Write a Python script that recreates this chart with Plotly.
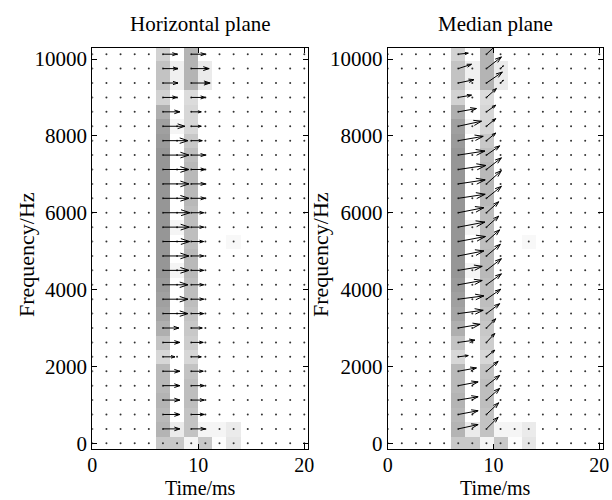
import plotly.graph_objects as go

# ---------------- grid ----------------
time_ms = [0.0, 1.333, 2.667, 4.0, 5.333, 6.667, 8.0, 9.333, 10.667, 12.0,
           13.333, 14.667, 16.0, 17.333, 18.667, 20.0]
freq_hz = [0, 375, 750, 1125, 1500, 1875, 2250, 2625, 3000, 3375, 3750, 4125,
           4500, 4875, 5250, 5625, 6000, 6375, 6750, 7125, 7500, 7875, 8250,
           8625, 9000, 9375, 9750, 10125]

# ---------------- gray level of cells (255 = white), per time column, bottom row first ----------------
gray_col5 = [200, 180, 185, 180, 185, 185, 215, 195, 175, 165, 160, 155, 150, 150,
             150, 150, 150, 150, 150, 150, 150, 155, 160, 175, 210, 195, 195, 210]
gray_col6 = [200, 235, 255, 255, 255, 255, 255, 255, 255, 255, 255, 255, 245, 255,
             255, 245, 255, 255, 255, 255, 255, 255, 245, 255, 255, 240, 240, 255]
gray_col7 = [245, 195, 195, 190, 190, 195, 215, 205, 200, 195, 190, 190, 185, 185,
             190, 190, 190, 185, 185, 185, 190, 200, 215, 215, 220, 180, 180, 180]
gray_col8 = [200, 245, 255, 255, 255, 255, 255, 255, 255, 255, 255, 255, 255, 255,
             255, 255, 255, 255, 255, 255, 255, 255, 255, 255, 255, 235, 235, 255]
gray_col9 = [253, 245] + [255] * 26
gray_col10 = [230, 235, 255, 255, 255, 255, 255, 255, 255, 255, 255, 255, 255, 255,
              248, 255, 255, 255, 255, 255, 255, 255, 255, 255, 255, 255, 255, 255]

# ---------------- arrow components (grid-step units), bottom row first ----------------
# Horizontal plane
h_u5 = [0, 1.20, 1.20, 1.20, 1.20, 1.20, 0.85, 1.20, 1.13, 1.77, 1.77, 1.77, 1.84, 1.84,
        1.89, 1.87, 1.91, 1.84, 1.84, 1.84, 1.84, 1.77, 1.55, 1.20, 0.99, 1.06, 1.06, 0.99]
h_u7 = [0, 0.99, 0.92, 0.92, 0.92, 0.85, 0.71, 0.85, 0.78, 0.88, 0.88, 0.88, 0.88, 0.88,
        0.88, 0.88, 0.88, 0.99, 0.99, 0.99, 0.99, 0.78, 0.71, 0.71, 0.99, 1.34, 1.27, 0.99]
h_u8 = [0] * 25 + [0.15, 0.15, 0]
# Median plane
m_u5 = [0, 1.41, 1.41, 1.41, 1.41, 1.29, 0.71, 1.18, 1.55, 1.77, 1.82, 1.70, 1.70, 1.82,
        1.93, 1.89, 1.82, 1.91, 1.91, 1.96, 1.89, 1.77, 1.65, 1.29, 0.94, 1.11, 0.94, 0.71]
m_v5 = [0, 0.30, 0.26, 0.23, 0.26, 0.23, 0.09, 0.16, 0.26, 0.23, 0.23, 0.30, 0.28, 0.35,
        0.35, 0.35, 0.35, 0.28, 0.28, 0.28, 0.28, 0.30, 0.35, 0.23, 0.16, 0.23, 0.30, 0.07]
m_u7 = [0, 0.83, 0.87, 0.94, 0.94, 0.83, 0.59, 0.59, 0.66, 0.94, 1.01, 1.06, 1.06, 0.99,
        0.94, 0.87, 0.87, 1.06, 1.06, 1.06, 0.94, 0.66, 0.66, 0.66, 0.71, 1.13, 1.06, 0.92]
m_v7 = [0, 0.81, 0.81, 0.81, 0.71, 0.69, 0.46, 0.62, 0.64, 0.69, 0.69, 0.76, 0.81, 0.81,
        0.81, 0.76, 0.76, 0.83, 0.92, 0.81, 0.64, 0.53, 0.53, 0.46, 0.62, 0.76, 0.81, 0.83]
m_u8 = [0] * 25 + [0.2, 0.2, 0]
m_v8 = [0] * 25 + [0.2, 0.2, 0]

x_ticks = [0, 10, 20]
y_ticks = [0, 2000, 4000, 6000, 8000, 10000]

# ---------------- layout geometry ----------------
W, H = 612, 500
x_range = [0, 20.38]
y_range = [-156, 10294]
dom_x1 = [0.1508, 0.5038]
dom_x2 = [0.6335, 0.9858]
dom_y = [0.1014, 0.9046]
FONT = "Liberation Serif, Times New Roman, serif"

nT, nF = len(time_ms), len(freq_hz)
dt = time_ms[1] - time_ms[0]
df = freq_hz[1] - freq_hz[0]

cols = {5: gray_col5, 6: gray_col6, 7: gray_col7, 8: gray_col8, 9: gray_col9, 10: gray_col10}
z = [[255] * nT for _ in range(nF)]
for k, arr in cols.items():
    for j in range(nF):
        z[j][k] = arr[j]

sx = (dom_x1[1] - dom_x1[0]) * W / (x_range[1] - x_range[0])
sy = (dom_y[1] - dom_y[0]) * H / (y_range[1] - y_range[0])


def arrows(field):
    """field: dict col -> (u list, v list) in grid units. returns line coords."""
    X, Y = [], []
    a, b = 0.33, 0.33
    for k, (us, vs) in field.items():
        for j in range(nF):
            u, v = us[j] * dt, vs[j] * df
            if u == 0 and v == 0:
                continue
            x0, y0 = time_ms[k], freq_hz[j]
            x1, y1 = x0 + u, y0 + v
            pu, pv = u * sx, v * sy
            b1x = x1 - a * (pu + b * pv) / sx
            b1y = y1 - a * (pv - b * pu) / sy
            b2x = x1 - a * (pu - b * pv) / sx
            b2y = y1 - a * (pv + b * pu) / sy
            X += [x0, x1, None, b1x, x1, b2x, None]
            Y += [y0, y1, None, b1y, y1, b2y, None]
    return X, Y


zeros = [0] * nF
fields = [
    {5: (h_u5, zeros), 7: (h_u7, zeros), 8: (h_u8, zeros)},
    {5: (m_u5, m_v5), 7: (m_u7, m_v7), 8: (m_u8, m_v8)},
]

fig = go.Figure()
dot_x = [t for f in freq_hz for t in time_ms]
dot_y = [f for f in freq_hz for t in time_ms]
for i, field in enumerate(fields):
    xa = "x" if i == 0 else "x2"
    ya = "y" if i == 0 else "y2"
    fig.add_trace(go.Heatmap(x=time_ms, y=freq_hz, z=z, zmin=0, zmax=255,
                             colorscale=[[0, "rgb(0,0,0)"], [1, "rgb(255,255,255)"]],
                             showscale=False, xaxis=xa, yaxis=ya, hoverinfo="skip"))
    fig.add_trace(go.Scatter(x=dot_x, y=dot_y, mode="markers",
                             marker=dict(size=2, color="#333"), xaxis=xa, yaxis=ya,
                             hoverinfo="skip", cliponaxis=True))
    AX, AY = arrows(field)
    fig.add_trace(go.Scatter(x=AX, y=AY, mode="lines", line=dict(color="black", width=1),
                             xaxis=xa, yaxis=ya, hoverinfo="skip"))

axis_common = dict(showline=True, linecolor="black", linewidth=1, mirror="ticks",
                   ticks="inside", ticklen=5, tickcolor="black", tickwidth=1,
                   showgrid=False, zeroline=False, tickformat="d",
                   automargin=False)
yfont = dict(family=FONT, size=21, color="black")
xfont = dict(family=FONT, size=20, color="black")
fig.update_layout(
    width=W, height=H, margin=dict(l=0, r=0, t=0, b=0),
    paper_bgcolor="white", plot_bgcolor="white", showlegend=False,
    xaxis=dict(domain=dom_x1, range=x_range, tickvals=x_ticks, anchor="y",
               tickfont=xfont, ticklabelstandoff=-2, **axis_common),
    yaxis=dict(domain=dom_y, range=y_range, tickvals=y_ticks, anchor="x",
               tickfont=yfont, **axis_common),
    xaxis2=dict(domain=dom_x2, range=x_range, tickvals=x_ticks, anchor="y2",
                tickfont=xfont, ticklabelstandoff=-2, **axis_common),
    yaxis2=dict(domain=dom_y, range=y_range, tickvals=y_ticks, anchor="x2",
                tickfont=yfont, **axis_common),
)

for dom, title in [(dom_x1, "Horizontal plane"), (dom_x2, "Median plane")]:
    cx = (dom[0] + dom[1]) / 2
    fig.add_annotation(text=title, x=cx, y=1 - 24 / H, xref="paper", yref="paper",
                       showarrow=False, xanchor="center", yanchor="middle",
                       font=dict(family=FONT, size=21, color="black"))
    fig.add_annotation(text="Time/ms", x=cx, y=1 - 488 / H, xref="paper", yref="paper",
                       showarrow=False, xanchor="center", yanchor="middle",
                       font=dict(family=FONT, size=20, color="black"))
for xp in [26 / W, 320 / W]:
    fig.add_annotation(text="Frequency/Hz", x=xp, y=1 - 255 / H, xref="paper", yref="paper",
                       showarrow=False, xanchor="center", yanchor="middle", textangle=-90,
                       font=dict(family=FONT, size=22, color="black"))

fig.write_html("out.html", config={"displayModeBar": False},
               post_script="document.body.style.margin='0';")
